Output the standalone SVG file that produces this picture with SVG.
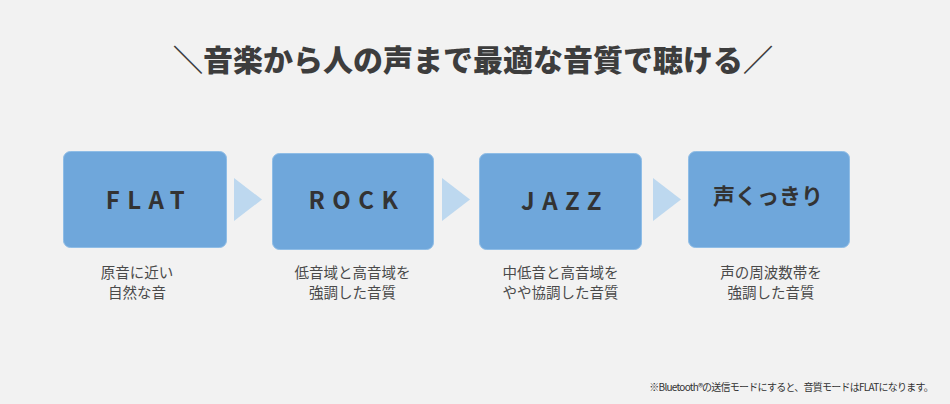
<svg xmlns="http://www.w3.org/2000/svg" width="950" height="404" viewBox="0 0 950 404">
<style>
text{font-family:"Noto Sans CJK JP","Noto Sans",sans-serif}
.box{fill:#6fa7db;stroke:#8fbde6;stroke-width:1}
.lbl{font-size:24px;font-weight:700;fill:#333;text-anchor:middle;letter-spacing:7.5px}
.lblj{font-size:22px;font-weight:700;fill:#333;text-anchor:middle}
.cap{font-size:14.5px;fill:#4a4a4a;text-anchor:middle}
.arr{fill:#bdd8ef}
</style>
<rect width="950" height="404" fill="#f2f2f2"/>
<text x="473" y="71" font-size="30" font-weight="900" fill="#3d3d3d" text-anchor="middle">＼音楽から人の声まで最適な音質で聴ける／</text>
<g id="connectors">
<polygon class="arr" points="234,178 262,199.5 234,221"/>
<polygon class="arr" points="442,178 470,199.5 442,221"/>
<polygon class="arr" points="653,178 681,199.5 653,221"/>
</g>
<g id="flat">
<rect class="box" x="63.5" y="151.5" width="163" height="96" rx="7"/>
<text class="lbl" x="149" y="209">FLAT</text>
<text class="cap" x="137" y="278">原音に近い</text>
<text class="cap" x="137" y="298">自然な音</text>
</g>
<g id="rock">
<rect class="box" x="272.5" y="153.5" width="161" height="96" rx="7"/>
<text class="lbl" x="357" y="209">ROCK</text>
<text class="cap" x="352.5" y="278">低音域と高音域を</text>
<text class="cap" x="352.5" y="298">強調した音質</text>
</g>
<g id="jazz">
<rect class="box" x="479.5" y="153.5" width="162" height="96" rx="7"/>
<text class="lbl" x="565" y="210">JAZZ</text>
<text class="cap" x="560.5" y="278">中低音と高音域を</text>
<text class="cap" x="560.5" y="298">やや協調した音質</text>
</g>
<g id="voice">
<rect class="box" x="688.5" y="151.5" width="161" height="96" rx="7"/>
<text class="lblj" x="768" y="204">声くっきり</text>
<text class="cap" x="771" y="278">声の周波数帯を</text>
<text class="cap" x="771" y="298">強調した音質</text>
</g>
<text x="933" y="391" font-size="10" fill="#333" text-anchor="end" letter-spacing="-0.75">※Bluetooth®の送信モードにすると、音質モードはFLATになります。</text>
</svg>
